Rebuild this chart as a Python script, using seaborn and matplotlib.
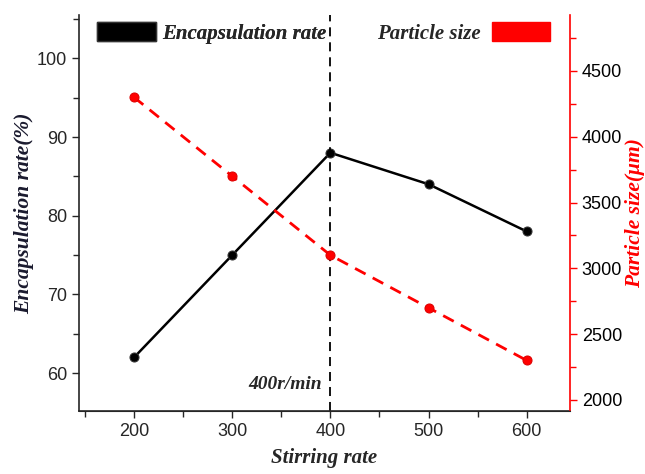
import matplotlib
matplotlib.use("Agg")
import matplotlib.pyplot as plt
from matplotlib.patches import Patch
from matplotlib.ticker import MultipleLocator
import pandas as pd
import seaborn as sns

stirring_rate = [200, 300, 400, 500, 600]
encapsulation_rate = [62, 75, 88, 84, 78]
particle_size = [4300, 3700, 3100, 2700, 2300]

df = pd.DataFrame({"Stirring rate": stirring_rate,
                   "Encapsulation rate": encapsulation_rate,
                   "Particle size": particle_size})

sns.set_style("ticks")
plt.rcParams["font.family"] = ["Liberation Sans", "DejaVu Sans"]
serif = {"family": ["Liberation Serif", "DejaVu Serif"], "style": "italic", "weight": "bold"}

fig = plt.figure(figsize=(6.45, 4.74), dpi=100)
ax = fig.add_axes([0.1225, 0.1329, 0.7612, 0.8355])
ax2 = ax.twinx()

sns.lineplot(data=df, x="Stirring rate", y="Encapsulation rate", ax=ax, color="black",
             marker="o", markersize=6.5, linewidth=1.8, markeredgecolor="#333333")
sns.lineplot(data=df, x="Stirring rate", y="Particle size", ax=ax2, color="red",
             marker="o", markersize=6.5, linewidth=2, markeredgecolor="#dd0000")
ax2.lines[0].set_dashes([4.3, 2.9])

ax.axvline(400, color="black", linestyle="--", linewidth=1.3, dashes=(5, 3.3))
ax.text(391, 58.6, "400r/min", ha="right", va="center", fontsize=14, **serif)

ax.set_xlim(144, 644)
ax.set_ylim(55.2, 105.5)
ax2.set_ylim(1916, 4925)

ax.set_xticks(stirring_rate)
ax.xaxis.set_minor_locator(MultipleLocator(50))
ax.yaxis.set_major_locator(MultipleLocator(10))
ax.yaxis.set_minor_locator(MultipleLocator(5))
ax2.yaxis.set_major_locator(MultipleLocator(500))
ax2.yaxis.set_minor_locator(MultipleLocator(250))

for a in (ax, ax2):
    a.tick_params(which="major", length=5, width=1, labelsize=13)
    a.tick_params(which="minor", length=4, width=1)
ax2.tick_params(axis="y", which="both", colors="red", labelcolor="black")

ax.spines["top"].set_visible(False)
ax2.spines["top"].set_visible(False)
ax.spines["right"].set_visible(False)
ax2.spines["right"].set_color("red")
ax2.spines["left"].set_visible(False)
for s in ("left", "bottom"):
    ax.spines[s].set_linewidth(1.2)
ax2.spines["right"].set_linewidth(1.2)

ax.set_xlabel("Stirring rate", fontsize=15, labelpad=6, **serif)
ax.set_ylabel("Encapsulation rate(%)", fontsize=15.5, color="#1a1a2e", labelpad=2, **serif)
ax2.set_ylabel("Particle size(μm)", fontsize=15.5, color="red", labelpad=2, **serif)

leg1 = ax.legend(handles=[Patch(facecolor="black", edgecolor="#333333", label="Encapsulation rate")],
                 loc="upper left", bbox_to_anchor=(0.037, 0.982), frameon=False,
                 borderpad=0, borderaxespad=0,
                 handlelength=2.8, handleheight=1.05, handletextpad=0.3,
                 prop={**serif, "size": 15})
ax.add_artist(leg1)
ax2.legend(handles=[Patch(facecolor="red", edgecolor="red", label="Particle size")],
           loc="upper right", bbox_to_anchor=(0.959, 0.982), frameon=False, markerfirst=False,
           borderpad=0, borderaxespad=0,
           handlelength=2.8, handleheight=1.05, handletextpad=0.5,
           prop={**serif, "size": 15})

fig.savefig("out.png", dpi=100)
